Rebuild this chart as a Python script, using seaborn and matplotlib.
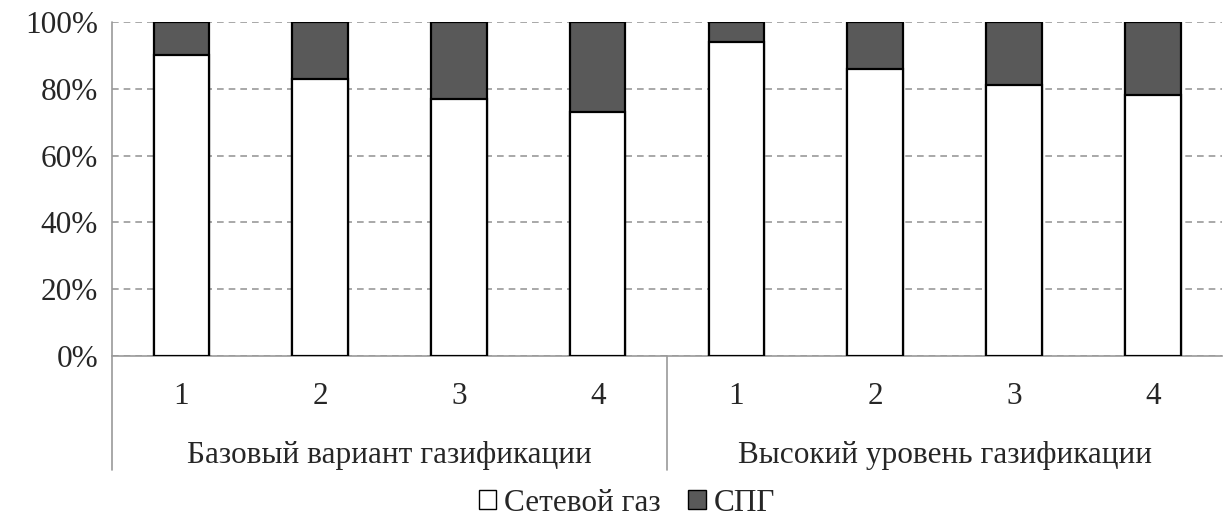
import pandas as pd
import matplotlib.pyplot as plt
import seaborn as sns
from matplotlib.patches import Patch

# data
groups = ["Базовый вариант газификации", "Высокий уровень газификации"]
cases = ["1", "2", "3", "4"]
network_gas = [90, 83, 77, 73, 94, 86, 81, 78]
lng = [10, 17, 23, 27, 6, 14, 19, 22]

labels = [f"{g[:3]}{c}" for g in groups for c in cases]
df = pd.DataFrame({"pos": labels, "net": network_gas, "lng": lng})
df["total"] = df["net"] + df["lng"]

sns.set_style("white")
plt.rcParams['font.family'] = ['Liberation Serif', 'DejaVu Serif']
fs = 22.5

fig = plt.figure(figsize=(12.24, 5.24), dpi=100)
ax = fig.add_axes([0.0915, 0.3206, 0.907, 0.6374])

# stacked bars: total in dark grey, network gas in white over it
sns.barplot(data=df, x="pos", y="total", color="#595959", edgecolor="black",
            linewidth=1.6, width=0.4, saturation=1, ax=ax, zorder=3)
sns.barplot(data=df, x="pos", y="net", color="white", edgecolor="black",
            linewidth=1.6, width=0.4, saturation=1, ax=ax, zorder=4)

ax.set_ylim(0, 100)
ax.set_xlim(-0.5, 7.5)
ax.set_yticks(range(0, 101, 20))
ax.set_yticklabels([f"{v}%" for v in range(0, 101, 20)], fontsize=fs)
ax.yaxis.grid(True, linestyle=(0, (4, 3)), color="#999999", linewidth=1.2)
ax.set_axisbelow(True)
ax.tick_params(axis="y", length=0, pad=10)
ax.set_xticks([])
ax.set_xlabel("")
ax.set_ylabel("")
for s in ["top", "right"]:
    ax.spines[s].set_visible(False)
ax.spines["left"].set_visible(False)
ax.spines["bottom"].set_color("#999999")
ax.spines["bottom"].set_linewidth(1.2)

# multi-level category axis
trans = ax.get_xaxis_transform()
for i, c in enumerate(cases * 2):
    ax.text(i, -0.144, c, transform=trans, ha="center", va="baseline", fontsize=fs)
for j, g in enumerate(groups):
    ax.text(j * 4 + 1.5, -0.32, g, transform=trans, ha="center", va="baseline", fontsize=fs)
for xv in [-0.5, 3.5]:
    ax.plot([xv, xv], [1.0 if xv < 0 else 0, -0.341], transform=trans,
            color="#999999", linewidth=1.2, clip_on=False)

handles = [Patch(facecolor="white", edgecolor="black", label="Сетевой газ"),
           Patch(facecolor="#595959", edgecolor="black", label="СПГ")]
fig.legend(handles=handles, loc="center", bbox_to_anchor=(0.512, 0.04), ncol=2,
           frameon=False, fontsize=fs, handlelength=0.55, handleheight=0.55,
           handletextpad=0.25, columnspacing=0.9)

fig.savefig("out.png", dpi=100)
